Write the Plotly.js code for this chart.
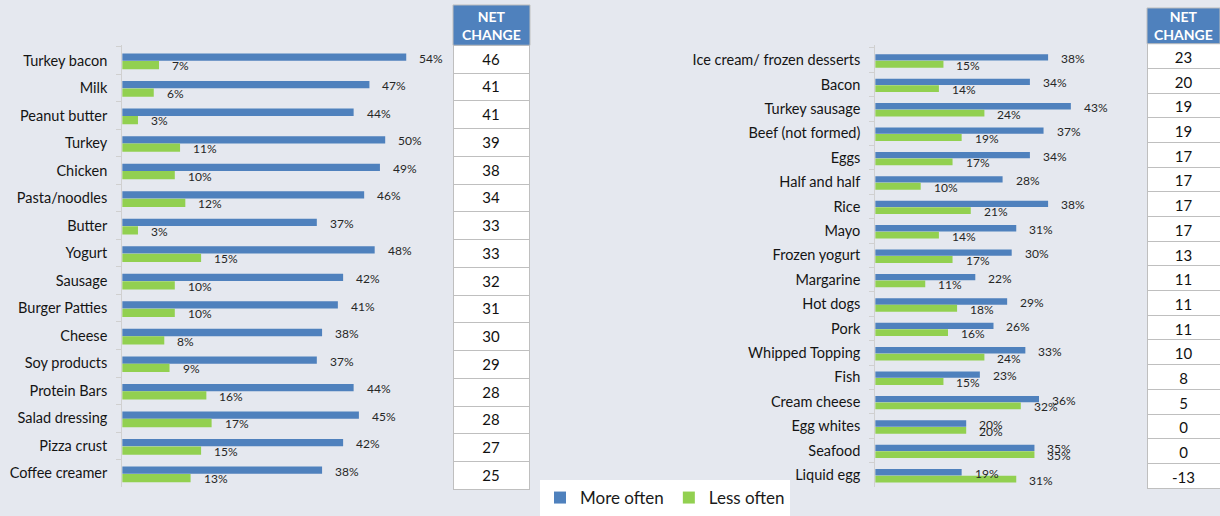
<!DOCTYPE html>
<html><head><meta charset="utf-8">
<script src="https://cdn.plot.ly/plotly-3.0.1.min.js"></script>
<style>html,body{margin:0;padding:0;background:#E5E8EF;overflow:hidden}</style>
</head><body><div id="chart" style="width:1220px;height:516px"></div>
<script>
const leftCategories = ["Turkey bacon","Milk","Peanut butter","Turkey","Chicken","Pasta/noodles","Butter","Yogurt","Sausage","Burger Patties","Cheese","Soy products","Protein Bars","Salad dressing","Pizza crust","Coffee creamer"];
const leftMoreOften = [54,47,44,50,49,46,37,48,42,41,38,37,44,45,42,38];
const leftLessOften = [7,6,3,11,10,12,3,15,10,10,8,9,16,17,15,13];
const leftNetChange = [46,41,41,39,38,34,33,33,32,31,30,29,28,28,27,25];

const rightCategories = ["Ice cream/ frozen desserts","Bacon","Turkey sausage","Beef (not formed)","Eggs","Half and half","Rice","Mayo","Frozen yogurt","Margarine","Hot dogs","Pork","Whipped Topping","Fish","Cream cheese","Egg whites","Seafood","Liquid egg"];
const rightMoreOften = [38,34,43,37,34,28,38,31,30,22,29,26,33,23,36,20,35,19];
const rightLessOften = [15,14,24,19,17,10,21,14,17,11,18,16,24,15,32,20,35,31];
const rightNetChange = [23,20,19,19,17,17,17,17,13,11,11,11,10,8,5,0,0,-13];

const seriesNames = ["More often","Less often"];
const tableHeader = "<b>NET<br>CHANGE</b>";

const BLUE = '#4F81BD', GREEN = '#92D050', BG = '#E5E8EF';
const FONT = 'Lato, "Open Sans", sans-serif';
const W = 1220, H = 516;

// table geometry (pixels from top-left)
const leftTable = {x0:453, x1:530, top:5, headBottom:45.5, rowsTop:45.5, rowH:27.75};
const rightTable = {x0:1147, x1:1220, top:8, headBottom:44, rowsTop:44, rowH:24.68};

function tableTrace(t, vals) {
  return {type:'table', domain:{x:[t.x0/W, t.x1/W], y:[0, (H - t.rowsTop + 16)/H]},
    header:{values:[], fill:{color:'rgba(0,0,0,0)'}, line:{width:0, color:'rgba(0,0,0,0)'}},
    cells:{values:[vals], height:t.rowH, align:'center', fill:{color:'white'},
           line:{color:'#BFBFBF', width:1}, font:{family:FONT, size:15, color:'#111111'}}};
}

const traces = [
  {type:'bar', orientation:'h', y:leftCategories, x:leftMoreOften, xaxis:'x', yaxis:'y',
   name:seriesNames[0], legendgroup:'more', marker:{color:BLUE}, width:0.265, offset:-0.25, hoverinfo:'x+y'},
  {type:'bar', orientation:'h', y:leftCategories, x:leftLessOften, xaxis:'x', yaxis:'y',
   name:seriesNames[1], legendgroup:'less', marker:{color:GREEN}, width:0.3, offset:0.02, hoverinfo:'x+y'},
  {type:'bar', orientation:'h', y:rightCategories, x:rightMoreOften, xaxis:'x2', yaxis:'y2',
   name:seriesNames[0], legendgroup:'more', showlegend:false, marker:{color:BLUE}, width:0.26, offset:-0.24, hoverinfo:'x+y'},
  {type:'bar', orientation:'h', y:rightCategories, x:rightLessOften, xaxis:'x2', yaxis:'y2',
   name:seriesNames[1], legendgroup:'less', showlegend:false, marker:{color:GREEN}, width:0.28, offset:0.03, hoverinfo:'x+y'},
  tableTrace(leftTable, leftNetChange),
  tableTrace(rightTable, rightNetChange)
];

const annotations = [];
function addLabels(cats, vals, xref, yref, yshift) {
  cats.forEach((c, i) => {
    annotations.push({x: vals[i], y: c, xref: xref, yref: yref, text: vals[i] + '%',
      showarrow: false, xanchor: 'left', yanchor: 'middle', xshift: 11, yshift: yshift,
      font: {family: FONT, size: 12, color: '#262626'}});
  });
}
addLabels(leftCategories, leftMoreOften, 'x', 'y', 2.2);
addLabels(leftCategories, leftLessOften, 'x', 'y', -5.5);
addLabels(rightCategories, rightMoreOften, 'x2', 'y2', 1.6);
addLabels(rightCategories, rightLessOften, 'x2', 'y2', -5.2);

const shapes = [];
[leftTable, rightTable].forEach(t => {
  shapes.push({type:'rect', xref:'paper', yref:'paper', x0:t.x0/W, x1:t.x1/W,
    y0:(H - t.headBottom)/H, y1:(H - t.top)/H, fillcolor:BLUE, line:{color:'#BFBFBF', width:1}, layer:'above'});
  annotations.push({xref:'paper', yref:'paper', x:(t.x0 + t.x1)/2/W, y:(H - (t.top + t.headBottom)/2)/H,
    xanchor:'center', yanchor:'middle', showarrow:false, text:tableHeader,
    font:{family:FONT, size:14, color:'white'}});
});

const yAxisCommon = {type:'category', autorange:'reversed', showline:true, linecolor:'#D0D0D0', linewidth:1,
  ticks:'outside', tickson:'boundaries', ticklen:5, tickcolor:'#D0D0D0', ticklabelstandoff:11,
  showgrid:false, zeroline:false, tickfont:{family:FONT, size:14.5, color:'#141414'}, fixedrange:true};
const xAxisCommon = {showgrid:false, zeroline:false, showticklabels:false, ticks:'', showline:false, fixedrange:true};

const layout = {
  width: W, height: H, margin:{l:0, r:0, t:0, b:0},
  paper_bgcolor: BG, plot_bgcolor: BG,
  font:{family:FONT, color:'#1A1A1A'},
  showlegend: true,
  legend:{orientation:'h', x:540/W, xanchor:'left', y:33/H, yanchor:'top', bgcolor:'white',
          font:{family:FONT, size:17, color:'#1A1A1A'}, itemwidth:30, traceorder:'normal'},
  xaxis: Object.assign({}, xAxisCommon, {domain:[122.2/W, (122.2 + 60*5.26)/W], range:[0,60], anchor:'y'}),
  yaxis: Object.assign({}, yAxisCommon, {domain:[(H-490)/H, (H-45.7)/H], anchor:'x'}),
  xaxis2: Object.assign({}, xAxisCommon, {domain:[875.2/W, (875.2 + 50*4.55)/W], range:[0,50], anchor:'y2'}),
  yaxis2: Object.assign({}, yAxisCommon, {domain:[(H-490)/H, (H-45.7)/H], anchor:'x2'}),
  shapes: shapes,
  annotations: annotations
};

Plotly.newPlot('chart', traces, layout, {displayModeBar:false});
</script></body></html>
